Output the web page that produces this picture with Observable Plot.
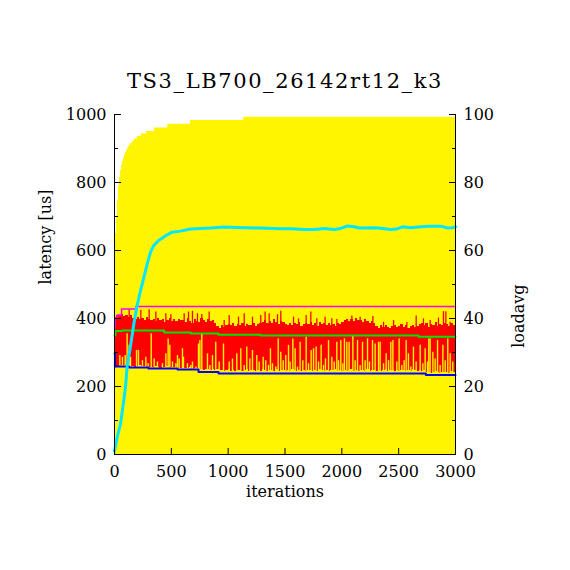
<!DOCTYPE html>
<html><head><meta charset="utf-8">
<script src="https://cdn.jsdelivr.net/npm/d3@7"></script>
<script src="https://cdn.jsdelivr.net/npm/@observablehq/plot@0.6"></script>
<style>
body{margin:0;background:#fff;width:570px;height:570px;overflow:hidden;font-family:"DejaVu Serif",serif;}
#title{position:relative;height:100px;}
#title div{position:absolute;left:0;right:0;top:71px;line-height:21px;text-align:center;font-size:21px;letter-spacing:1.6px;color:#000;}
</style></head>
<body>
<div id="title"><div>TS3_LB700_26142rt12_k3</div></div>
<div id="chart"></div>
<script>
// running maximum latency (yellow area)
const maxIter = [0, 9, 18, 26, 35, 44, 53, 62, 70, 79, 88, 97, 106, 114, 123, 132, 141, 158, 176, 200, 235, 281, 352, 469, 668, 1137, 3000];
const maxLat  = [600, 650, 700, 747, 790, 815, 835, 850, 862, 872, 880, 888, 895, 900, 905, 910, 914, 921, 928, 935, 943, 950, 960, 971, 982, 992, 992];

// per-interval latency band (red), bins of 20 iterations
const redStep = 20;
const redHi = [
 402,408,410,
 412,405,410,403,408,400,
 398,402,396,400,395,403,398,394,
 396,390,400,393,398,389,395,401,392,397,390,396,393,
 395,388,399,391,386,397,392,389,400,394,387,396,390,393,386,
 376,372,378,374,379,
 382,378,384,376,381,379,385,377,383,380,378,384,376,382,385,
 388,394,384,392,386,396,389,383,391,387,382,
 380,386,378,384,381,388,376,383,385,
 382,387,379,385,376,388,381,384,378,386,380,383,377,385,382,
 388,394,398,392,396,390,399,393,395,389,397,391,386,390,384,
 376,372,378,374,380,375,371,377,379,373,376,381,374,378,372,376,380,373,377,382,
 384,378,386,375,382,380,387,377,383,379,385,381,376,384,380];
const redLo = [
 262,260,263,261,262,260,263,
 258,260,257,259,261,258,260,257,
 255,257,254,258,256,254,257,255,258,254,256,257,255,
 252,254,251,253,252,255,251,253,252,
 248,250,247,249,251,248,250,247,249,
 246,248,244,247,249,245,247,243,248,246,
 244,247,249,245,248,246,243,247,245,249,
 246,244,248,247,245,249,243,246,248,244,
 247,245,249,246,243,248,245,247,244,246,
 248,245,247,243,249,246,244,248,245,247,
 246,249,244,247,245,248,243,246,249,245,
 247,244,248,246,245,249,243,247,246,244,
 248,245,247,249,244,246,248,243,247,245,
 246,248,244,247,245,249,246,243,248,245,
 247,
 240,242,239,241,243,240,238,242,240,241,239,243,240];

// single samples whose minimum stayed high (yellow gaps in the band)
const gapIter = [47,70,94,111,129,141,194,211,246,276,296,323,349,378,422,452,472,487,510,540,554,569,598,607,642,672,686,716,739,751,768,818,839,862,891,921,959,1009,1038,1076,1111,1141,1164,1191,1214,1252,1273,1308,1331,1355,1372,1390,1419,1440,1463,1484,1507,
 1531,1545,1569,1589,1610,1633,1657,1686,1707,1730,1751,1774,1795,1818,1839,1856,1883,1912,1933,1956,1971,1991,2009,2023,2044,2064,2097,2117,2138,2161,2182,2205,2226,2243,2270,2293,2323,2337,2367,2390,2411,2431,2449,2484,2504,2528,2548,2566,2586,2607,2630,2654,2689,2713,2733,2754,2765,2777,2801,2821,2842,2865,2889,2909,2932,2953,2976];
const gapTop = [291,286,291,355,321,286,306,306,276,286,267,355,281,272,267,296,340,321,272,267,291,281,311,286,267,262,272,257,325,335,355,296,262,291,330,272,325,272,281,296,311,262,316,281,306,291,272,286,276,262,311,267,257,340,301,276,291,
 321,272,340,311,257,330,276,345,267,306,311,316,272,321,262,281,335,286,272,330,276,335,267,340,330,330,350,276,335,262,330,276,340,272,335,325,330,330,267,296,276,330,335,272,340,262,276,335,296,257,316,272,321,267,311,272,340,340,301,281,335,262,321,276,340,296,272];

// single samples with high maximum (red spikes)
const spikeIter = [129,232,305,364,452,496,613,651,686,730,768,833,965,1009,1091,1141,1214,1287,1325,1361,1434,1463,1575,1619,1686,1727,1780,1853,1912,1956,2088,2161,2273,2367,2455,2572,2654,2718,2777,2850,2894,2915,2953];
const spikeTop  = [426,424,426,419,414,411,414,419,421,414,412,419,394,409,404,414,404,409,419,414,411,421,404,399,409,419,399,404,399,397,407,404,406,389,394,388,407,399,394,401,420,420,389];

// overall max (magenta), average (green), min (blue)
const magIter = [0, 6, 25, 62, 188, 3000];
const magLat  = [372, 400, 410, 428, 435, 435];
const avgIter = [0, 8, 70, 437, 672, 915, 1287, 2675, 3000];
const avgLat  = [350, 363, 365, 359, 356, 352, 350, 346, 346];
const minIter = [0, 4, 129, 299, 554, 739, 915, 2739, 3000];
const minLat  = [296, 259, 256, 253, 250, 243, 238, 234, 234];

// load average (cyan, right axis)
const loadIter = [0,23,53,82,97,111,141,170,199,229,258,287,317,346,390,419,463,507,580,668,844,961,1137,1284,1460,1548,1680,1755,1850,1930,1990,2050,2110,2150,2300,2430,2480,2540,2600,2700,2760,2880,2930,2970,3000];
const loadVal  = [1,5,9,16,20,25.7,32,38.4,43.8,48.2,52,56,59.5,61.5,63,63.6,64.6,65.4,65.7,66.3,66.6,66.9,66.7,66.6,66.4,66.4,66.2,66.2,66.5,66.2,66.5,67.2,67.0,66.6,66.7,66.2,66.3,67.0,66.7,67.0,67.1,67.1,66.6,66.7,67.0];

const yTicks = [0, 200, 400, 600, 800, 1000];
const yMinor = [100, 300, 500, 700, 900];
const xTicks = [0, 500, 1000, 1500, 2000, 2500, 3000];

const zip = (a, b, ka, kb) => a.map((v, i) => ({[ka]: v, [kb]: b[i]}));
const maxData = zip(maxIter, maxLat, "iter", "lat");
const redData = redHi.map((h, i) => ({x1: i * redStep, x2: (i + 1) * redStep, hi: h, lo: redLo[i]}));
const gapData = zip(gapIter, gapTop, "iter", "top");
const spikeData = zip(spikeIter, spikeTop, "iter", "top");
const magData = zip(magIter, magLat, "iter", "lat");
const avgData = zip(avgIter, avgLat, "iter", "lat");
const minData = zip(minIter, minLat, "iter", "lat");
const loadData = zip(loadIter, loadVal, "iter", "load");

const YELLOW = "#fff500";
const chart = Plot.plot({
  width: 570, height: 470,
  marginTop: 14, marginBottom: 116, marginLeft: 114, marginRight: 115,
  style: {fontFamily: "DejaVu Serif", fontSize: "16px", color: "#000", background: "#fff"},
  x: {domain: [0, 3000]},
  y: {domain: [0, 1000]},
  marks: [
    Plot.areaY(maxData, {x: "iter", y: "lat", curve: "step-after", fill: YELLOW}),
    Plot.rectY(redData, {x1: "x1", x2: "x2", y1: "lo", y2: "hi", fill: "#ff0000", shapeRendering: "crispEdges"}),
    Plot.ruleX(spikeData, {x: "iter", y1: 370, y2: "top", stroke: "#ff0000", strokeWidth: 1.3}),
    Plot.ruleX(gapData, {x: "iter", y1: 230, y2: "top", stroke: YELLOW, strokeWidth: 1.4}),
    Plot.line(magData, {x: "iter", y: "lat", curve: "step-after", stroke: "#ff00ff", strokeWidth: 1.5}),
    Plot.line(avgData, {x: "iter", y: "lat", curve: "step-after", stroke: "#00e400", strokeWidth: 2}),
    Plot.line(minData, {x: "iter", y: "lat", curve: "step-after", stroke: "#0000ff", strokeWidth: 2}),
    Plot.line(loadData, {x: "iter", y: d => d.load * 10, stroke: "#00e8ff", strokeWidth: 3}),
    Plot.ruleX([0, 3000], {stroke: "#000"}),
    Plot.ruleY([0], {stroke: "#000"}),
    Plot.axisY({anchor: "left", ticks: yTicks, tickSize: 0, tickPadding: 8, tickFormat: d => String(d), label: null}),
    Plot.axisY({anchor: "left", ticks: yTicks, tickSize: -7, tickFormat: () => "", label: null}),
    Plot.axisY({anchor: "left", ticks: yMinor, tickSize: -4, tickFormat: () => "", label: null}),
    Plot.axisY({anchor: "right", ticks: yTicks, tickSize: 0, tickPadding: 8, tickFormat: d => String(d / 10), label: null}),
    Plot.axisY({anchor: "right", ticks: yTicks, tickSize: -7, tickFormat: () => "", label: null}),
    Plot.axisY({anchor: "right", ticks: yMinor, tickSize: -4, tickFormat: () => "", label: null}),
    Plot.axisX({ticks: xTicks, tickSize: 0, tickPadding: 11, tickFormat: d => String(d), label: null}),
    Plot.axisX({ticks: xTicks, tickSize: -6, tickFormat: () => "", label: null}),
    Plot.text(["latency [us]"], {frameAnchor: "left", dx: -69, rotate: -90, fontSize: 16, fill: "#000"}),
    Plot.text(["loadavg"], {frameAnchor: "right", dx: 63, rotate: -90, fontSize: 16, fill: "#000", letterSpacing: 0.7}),
    Plot.text(["iterations"], {frameAnchor: "bottom", dy: 42, fontSize: 16, fill: "#000", letterSpacing: 1.2})
  ]
});
document.getElementById("chart").appendChild(chart);
</script>
</body></html>
